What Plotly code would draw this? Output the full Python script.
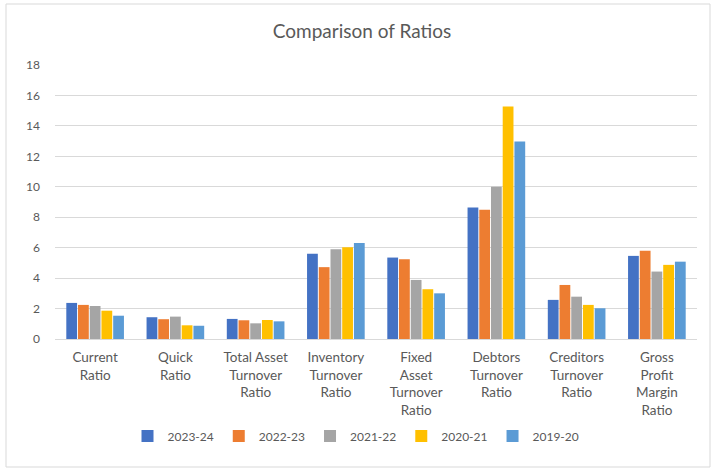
import plotly.graph_objects as go

categories = [
    "Current<br>Ratio",
    "Quick<br>Ratio",
    "Total Asset<br>Turnover<br>Ratio",
    "Inventory<br>Turnover<br>Ratio",
    "Fixed<br>Asset<br>Turnover<br>Ratio",
    "Debtors<br>Turnover<br>Ratio",
    "Creditors<br>Turnover<br>Ratio",
    "Gross<br>Profit<br>Margin<br>Ratio",
]

years = ["2023-24", "2022-23", "2021-22", "2020-21", "2019-20"]

fy_2023_24 = [2.37, 1.43, 1.32, 5.60, 5.35, 8.64, 2.57, 5.46]
fy_2022_23 = [2.24, 1.30, 1.23, 4.72, 5.24, 8.49, 3.55, 5.80]
fy_2021_22 = [2.17, 1.47, 1.03, 5.90, 3.88, 10.00, 2.78, 4.43]
fy_2020_21 = [1.86, 0.90, 1.25, 6.03, 3.27, 15.28, 2.24, 4.87]
fy_2019_20 = [1.53, 0.87, 1.16, 6.30, 3.00, 12.98, 2.02, 5.08]

y_ticks = [0, 2, 4, 6, 8, 10, 12, 14, 16, 18]

series = [fy_2023_24, fy_2022_23, fy_2021_22, fy_2020_21, fy_2019_20]
colors = ["#4472C4", "#ED7D31", "#A5A5A5", "#FFC000", "#5B9BD5"]

W, H = 711, 469
L, R, T, B = 55, 14, 65, 130
pw, ph = W - L - R, H - T - B

def px_x(p):
    return (p - L) / pw

def px_y(p):
    return (H - B - p) / ph

fig = go.Figure()
for name, vals, col in zip(years, series, colors):
    fig.add_trace(go.Bar(name=name, x=categories, y=vals, marker_color=col,
                         marker_line_width=0))

font_family = "Lato, 'Open Sans', sans-serif"
text_col = "#595959"

fig.update_layout(
    width=W, height=H,
    margin=dict(l=L, r=R, t=T, b=B),
    paper_bgcolor="white", plot_bgcolor="white",
    barmode="group", bargap=0.27, bargroupgap=0.08,
    font=dict(family=font_family, color=text_col, size=12),
    title=dict(text="Comparison of Ratios", x=362 / W, xanchor="center",
               y=1 - 31 / H, yanchor="middle", yref="container",
               font=dict(size=19, color=text_col, family=font_family)),
    xaxis=dict(showline=True, linecolor="#D9D9D9", linewidth=1,
               ticks="", tickfont=dict(size=13.5, color=text_col),
               ticklabelstandoff=6, showgrid=False),
    yaxis=dict(range=[0, 18], tickvals=y_ticks, showgrid=True,
               gridcolor="#D9D9D9", gridwidth=1, zeroline=False,
               showline=False, ticks="", ticklen=0,
               ticklabelstandoff=14,
               tickfont=dict(size=12, color=text_col)),
    legend=dict(orientation="h", x=px_x(356), xanchor="center",
                y=px_y(436), yanchor="middle",
                font=dict(size=12, color=text_col),
                itemwidth=30, tracegroupgap=0),
    shapes=[dict(type="rect", xref="paper", yref="paper",
                 x0=px_x(6), x1=px_x(710), y0=px_y(467), y1=px_y(4),
                 line=dict(color="#D9D9D9", width=1), layer="below")],
    showlegend=True,
)

fig.write_html("out.html")
